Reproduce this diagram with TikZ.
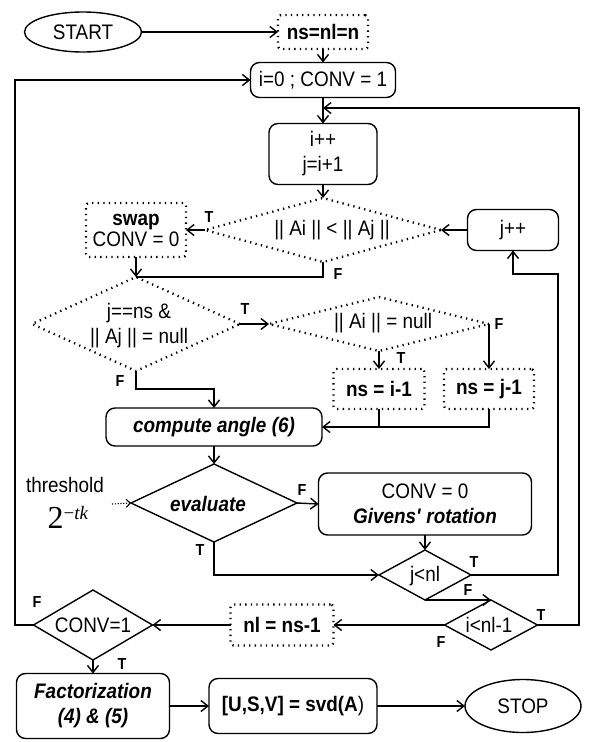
\documentclass[tikz,border=0pt]{standalone}
\usepackage{fontspec}
\setmainfont{Liberation Sans}[FakeStretch=0.9]
\newfontfamily\serifA{Liberation Serif}
\usetikzlibrary{shapes.geometric,arrows.meta}
\newcommand{\sqA}{\XeTeXglyph\XeTeXglyphindex "quotesingle" \relax}
\tikzset{
  arr/.style={-{Straight Barb[length=7pt,width=11pt]}},
  solidbox/.style={draw, rounded corners=9pt},
  dotline/.style={draw, line width=2.3pt, dash pattern=on 1.3pt off 4.3pt},
  dotbox/.style={dotline, rounded corners=3pt},
  dia/.style={draw, diamond},
  lab/.style={font=\fontsize{16}{16}\selectfont\bfseries},
  dotarrow/.style={line width=1.1pt, dash pattern=on 1.2pt off 1.6pt, -{Straight Barb[length=4pt,width=8pt]}},
}
\begin{document}
\begin{tikzpicture}[x=1pt,y=-1pt,line width=1.4pt,
  every node/.style={font=\fontsize{21}{25}\selectfont, inner sep=0pt, outer sep=0pt, align=center}]
\useasboundingbox (0,0) rectangle (591,742);

% nodes
\node[ellipse, draw, minimum width=117pt, minimum height=40pt] (start) at (83,32) {START};
\node[dotbox, minimum width=90pt, minimum height=34pt] (ns) at (323,32) {\textbf{ns=nl=n}};
\node[solidbox, minimum width=145pt, minimum height=35pt] (i0) at (323,80) {i=0 ; CONV = 1};
\node[solidbox, minimum width=108pt, minimum height=61pt] (ipp) at (323,154) {i++\\j=i+1};
\coordinate (jn1) at (323,108);

\node[dia, dotline, minimum width=236pt, minimum height=64pt] (d1) at (323,230) {};
\node (d1t) at (332,230) {|| Ai || < || Aj ||};
\node[dotbox, minimum width=100pt, minimum height=54pt, font=\fontsize{21}{21}\selectfont] (swap) at (136,230) {\textbf{swap}\\CONV = 0};
\node[solidbox, minimum width=91pt, minimum height=41pt] (jpp) at (513,230) {j++};

\node[dia, dotline, minimum width=208pt, minimum height=94pt] (d2) at (136,324) {};
\node (d2t) at (139,326) {j==ns \&\\|| Aj || = null};
\node[dia, dotline, minimum width=220pt, minimum height=54pt] (d3) at (379,324) {};
\node (d3t) at (383,323) {|| Ai || = null};
\node[dotbox, minimum width=91pt, minimum height=40pt] (nsi) at (379,389) {\textbf{ns = i-1}};
\node[dotbox, minimum width=90pt, minimum height=40pt] (nsj) at (489,389) {\textbf{ns = j-1}};

\node[solidbox, minimum width=216pt, minimum height=38pt] (comp) at (214,427) {\textbf{\textit{compute angle (6)}}};
\node[dia, minimum width=166pt, minimum height=78pt] (eval) at (214,503) {};
\node (evalt) at (208,504) {\textbf{\textit{evaluate}}};
\node (thr) at (65,485) {threshold};
\node (tk) at (68,517) {\serifA\fontsize{32}{32}\selectfont 2\raisebox{9pt}{\fontsize{19}{19}\selectfont −\textit{tk}}};
\coordinate (thra) at (112,504);
\node[solidbox, minimum width=213pt, minimum height=62pt] (giv) at (425,504) {CONV = 0\\\textbf{\textit{Givens\sqA\ rotation}}};

\node[dia, minimum width=92pt, minimum height=50pt] (jnl) at (425,575) {};
\node (jnlt) at (425,576) {j<nl};
\node[dia, minimum width=93pt, minimum height=50pt] (inl) at (491,625) {};
\node (inlt) at (489,625) {i<nl-1};
\node[dotbox, minimum width=103pt, minimum height=41pt] (nl) at (282,625) {\textbf{nl = ns-1}};
\node[dia, minimum width=119pt, minimum height=70pt] (conv) at (93,625) {};
\node (convt) at (93,625) {CONV=1};

\node[solidbox, minimum width=153pt, minimum height=65pt] (fact) at (93,706) {\textbf{\textit{Factorization}}\\\textbf{\textit{(4) \& (5)}}};
\node[solidbox, minimum width=168pt, minimum height=55pt] (svd) at (293,706) {\textbf{[U,S,V] = svd(A})};
\node[ellipse, draw, minimum width=116pt, minimum height=53pt] (stop) at (523,706) {STOP};

\coordinate (r1) at (558,274);
\coordinate (r2) at (579,108);
\coordinate (l1) at (15,300);

% connectors
\draw[arr] (start) -- (ns);
\draw[arr] (ns) -- (i0);
\draw[arr] (i0) -- (ipp);
\draw[arr] (ipp.south) -- (d1.north);
\draw[arr] (d1.west) -- (swap.east);
\draw[arr] (jpp.west) -- (d1.east);
\draw (d1.south) |- (d2.north);
\draw[arr] (swap.south) -- (d2.north);
\draw[arr] (d2.east) -- (d3.west);
\draw[arr] (d3.south) -- (nsi.north);
\draw[arr] (d3.east) -- (nsj.north);
\draw (nsi.south) -- (nsi.south |- comp.east);
\draw[arr] (nsj.south) |- (comp.east);
\draw[arr] (d2.south) -- ++(0,18) -| (comp.north);
\draw[arr] (comp.south) -- (eval.north);
\draw[dotarrow] (thra) -- (eval.west);
\draw[arr] (eval.east) -- (giv.west);
\draw[arr] (giv.south) -- (jnl.north);
\draw[arr] (eval.south) |- (jnl.west);
\draw[arr] (jnl.east) -| (r1) -| (jpp.south);
\draw[arr] (jnl.south) -- (inl.north);
\draw[arr] (inl.east) -| (r2) -- (jn1);
\draw[arr] (inl.west) -- (nl.east);
\draw[arr] (nl.west) -- (conv.east);
\draw[arr] (conv.west) -| (l1) |- (i0.west);
\draw[arr] (conv.south) -- (fact.north);
\draw[arr] (fact.east) -- (svd.west);
\draw[arr] (svd.east) -- (stop.west);

% T/F labels
\node[lab] (t1) at (209,217) {T};
\node[lab] (f1) at (338,274) {F};
\node[lab] (t2) at (245,309) {T};
\node[lab] (f2) at (120,381) {F};
\node[lab] (t3) at (401,358) {T};
\node[lab] (f3) at (499,324) {F};
\node[lab] (f4) at (302,490) {F};
\node[lab] (t4) at (200,550) {T};
\node[lab] (t5) at (474,562) {T};
\node[lab] (f5) at (468,590) {F};
\node[lab] (t6) at (541,615) {T};
\node[lab] (f6) at (441,642) {F};
\node[lab] (f7) at (37,602) {F};
\node[lab] (t7) at (122,664) {T};
\end{tikzpicture}
\end{document}
